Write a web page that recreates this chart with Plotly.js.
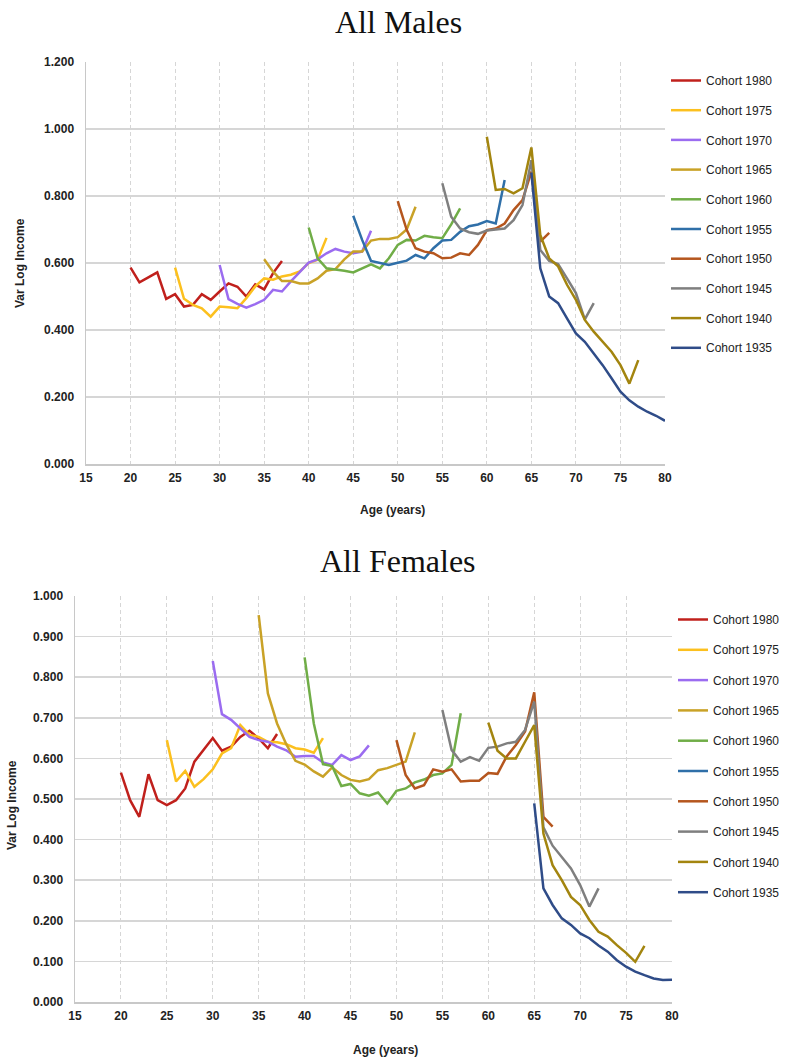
<!DOCTYPE html>
<html>
<head>
<meta charset="utf-8">
<script src="https://cdn.plot.ly/plotly-3.0.1.min.js"></script>
<style>
  html, body { margin: 0; padding: 0; background: #fff; }
  #chart { width: 785px; height: 1064px; }
</style>
</head>
<body>
<div id="chart"></div>
<script>
// ---- Data ----
const cohortNames = ["Cohort 1980","Cohort 1975","Cohort 1970","Cohort 1965","Cohort 1960",
                     "Cohort 1955","Cohort 1950","Cohort 1945","Cohort 1940","Cohort 1935"];
const cohortStartAge = [20, 25, 30, 35, 40, 45, 50, 55, 60, 65];
const xTicks = [15,20,25,30,35,40,45,50,55,60,65,70,75,80];

// All Males: variance of log income by age, one array per cohort
const m1980 = [0.586,0.542,0.557,0.572,0.493,0.507,0.470,0.475,0.507,0.490,0.515,0.539,0.529,0.500,0.536,0.521,0.570,0.606];
const m1975 = [0.586,0.493,0.475,0.465,0.440,0.470,0.468,0.465,0.495,0.530,0.554,0.550,0.560,0.565,0.575,0.600,0.610,0.675];
const m1970 = [0.594,0.492,0.478,0.467,0.477,0.490,0.520,0.515,0.545,0.574,0.601,0.611,0.629,0.642,0.634,0.629,0.634,0.696];
const m1965 = [0.611,0.574,0.546,0.546,0.539,0.539,0.554,0.577,0.582,0.611,0.634,0.634,0.667,0.672,0.672,0.677,0.700,0.768];
const m1960 = [0.706,0.614,0.584,0.581,0.577,0.572,0.584,0.596,0.584,0.614,0.654,0.669,0.667,0.681,0.677,0.674,0.715,0.763];
const m1955 = [0.741,0.669,0.606,0.599,0.594,0.601,0.607,0.624,0.614,0.644,0.667,0.669,0.693,0.710,0.715,0.725,0.718,0.848];
const m1950 = [0.785,0.699,0.644,0.634,0.629,0.614,0.616,0.629,0.624,0.654,0.698,0.703,0.718,0.758,0.788,0.873,0.664,0.690];
const m1945 = [0.838,0.738,0.703,0.692,0.687,0.697,0.700,0.703,0.728,0.773,0.907,0.639,0.606,0.597,0.554,0.510,0.432,0.480];
const m1940 = [0.977,0.818,0.821,0.808,0.823,0.945,0.684,0.614,0.590,0.535,0.490,0.430,0.395,0.365,0.335,0.295,0.240,0.310];
const m1935 = [0.870,0.584,0.500,0.480,0.435,0.390,0.365,0.330,0.295,0.256,0.216,0.190,0.171,0.156,0.144,0.129];

// All Females
const f1980 = [0.565,0.497,0.456,0.561,0.497,0.485,0.497,0.526,0.592,0.621,0.650,0.619,0.629,0.653,0.668,0.649,0.625,0.660];
const f1975 = [0.645,0.543,0.569,0.530,0.549,0.573,0.612,0.625,0.682,0.658,0.653,0.641,0.640,0.635,0.625,0.622,0.614,0.650];
const f1970 = [0.840,0.709,0.695,0.674,0.653,0.645,0.641,0.629,0.620,0.604,0.606,0.606,0.590,0.584,0.608,0.596,0.605,0.632];
const f1965 = [0.953,0.760,0.686,0.635,0.594,0.585,0.568,0.555,0.578,0.559,0.547,0.543,0.549,0.571,0.576,0.584,0.592,0.664];
const f1960 = [0.849,0.686,0.586,0.581,0.532,0.537,0.514,0.508,0.516,0.489,0.520,0.526,0.541,0.548,0.559,0.563,0.584,0.711];
const f1955 = [null,null,null,null,null,null,null,null,null,null,null,null,null,null,null,null,null,null];
const f1950 = [0.645,0.559,0.526,0.534,0.573,0.567,0.573,0.543,0.545,0.545,0.564,0.562,0.605,0.633,0.666,0.763,0.456,0.432];
const f1945 = [0.719,0.621,0.592,0.603,0.594,0.626,0.629,0.637,0.641,0.670,0.740,0.430,0.385,0.358,0.329,0.288,0.235,0.280];
const f1940 = [0.688,0.619,0.600,0.600,0.641,0.682,0.415,0.337,0.300,0.259,0.239,0.202,0.173,0.161,0.140,0.121,0.099,0.138];
const f1935 = [0.489,0.280,0.239,0.206,0.190,0.169,0.157,0.139,0.124,0.103,0.087,0.075,0.066,0.058,0.054,0.055];

const maleSeries = [m1980,m1975,m1970,m1965,m1960,m1955,m1950,m1945,m1940,m1935];
const femaleSeries = [f1980,f1975,f1970,f1965,f1960,f1955,f1950,f1945,f1940,f1935];

// ---- Styles ----
const colors = ["#c0201c","#fcc01e","#9b6cf0","#c9a227","#70ad47","#2f6fa8","#b5561e","#7f7f7f","#a3850f","#2f4c88"];
const tickFont = {family: "Liberation Sans, Arial, sans-serif", size: 12, color: "#222", weight: "bold"};
const legFont = {family: "Liberation Sans, Arial, sans-serif", size: 12, color: "#222"};
const W = 785, H = 1064;

const traces = [];
function addTraces(series, xa, ya, leg, grpPrefix) {
  series.forEach((vals, k) => {
    traces.push({
      type: "scatter", mode: "lines",
      name: cohortNames[k],
      x: vals.map((_, i) => cohortStartAge[k] + i),
      y: vals,
      xaxis: xa, yaxis: ya,
      legend: leg,
      legendgroup: grpPrefix + k,
      line: {color: colors[k], width: 2.5},
      hoverinfo: "x+y+name"
    });
  });
}
addTraces(maleSeries, "x", "y", "legend", "m");
addTraces(femaleSeries, "x2", "y2", "legend2", "f");

function xAx(dom, anchor) {
  return {
    domain: dom, anchor: anchor, range: [15, 80], tickvals: xTicks,
    showgrid: true, gridcolor: "#d6d6d6", griddash: "4px,3px", gridwidth: 1,
    showline: true, linecolor: "#c8c8c8", linewidth: 1.5,
    zeroline: false, ticks: "", tickfont: tickFont, ticklabelstandoff: 2, fixedrange: true
  };
}
function yAx(dom, anchor, rng, dt) {
  return {
    domain: dom, anchor: anchor, range: rng, dtick: dt, tick0: 0, tickformat: ".3f",
    showgrid: true, gridcolor: "#d6d6d6", gridwidth: 1.5,
    showline: true, linecolor: "#c8c8c8", linewidth: 1.5,
    zeroline: false, ticks: "", tickfont: tickFont, ticklabelstandoff: 8, fixedrange: true
  };
}

const layout = {
  width: W, height: H,
  margin: {l: 0, r: 0, t: 0, b: 0},
  paper_bgcolor: "#fff", plot_bgcolor: "#fff",
  showlegend: true,
  xaxis: xAx([86/W, 665/W], "y"),
  yaxis: yAx([1 - 464/H, 1 - 62/H], "x", [0, 1.2], 0.2),
  xaxis2: xAx([75/W, 672/W], "y2"),
  yaxis2: yAx([1 - 1002/H, 1 - 596/H], "x2", [0, 1.0], 0.1),
  legend: {x: 666/W, y: 1 - 66/H, xanchor: "left", yanchor: "top", font: legFont,
           tracegroupgap: 10.7, itemwidth: 30, bgcolor: "rgba(0,0,0,0)"},
  legend2: {x: 673/W, y: 1 - 605/H, xanchor: "left", yanchor: "top", font: legFont,
            tracegroupgap: 11.3, itemwidth: 30, bgcolor: "rgba(0,0,0,0)"},
  annotations: [
    {text: "All Males", xref: "paper", yref: "paper", x: 398/W, y: 1 - 22/H,
     xanchor: "center", yanchor: "middle", showarrow: false,
     font: {family: "Liberation Serif, serif", size: 32, color: "#111"}},
    {text: "All Females", xref: "paper", yref: "paper", x: 398/W, y: 1 - 561/H,
     xanchor: "center", yanchor: "middle", showarrow: false,
     font: {family: "Liberation Serif, serif", size: 32, color: "#111"}},
    {text: "Age (years)", xref: "paper", yref: "paper", x: 392/W, y: 1 - 510/H,
     xanchor: "center", yanchor: "middle", showarrow: false, font: tickFont},
    {text: "Age (years)", xref: "paper", yref: "paper", x: 385/W, y: 1 - 1050/H,
     xanchor: "center", yanchor: "middle", showarrow: false, font: tickFont},
    {text: "Var Log Income", xref: "paper", yref: "paper", x: 20/W, y: 1 - 263/H,
     xanchor: "center", yanchor: "middle", showarrow: false, textangle: -90, font: tickFont},
    {text: "Var Log Income", xref: "paper", yref: "paper", x: 12/W, y: 1 - 805/H,
     xanchor: "center", yanchor: "middle", showarrow: false, textangle: -90, font: tickFont}
  ]
};

Plotly.newPlot("chart", traces, layout, {displayModeBar: false, staticPlot: true});
</script>
</body>
</html>
